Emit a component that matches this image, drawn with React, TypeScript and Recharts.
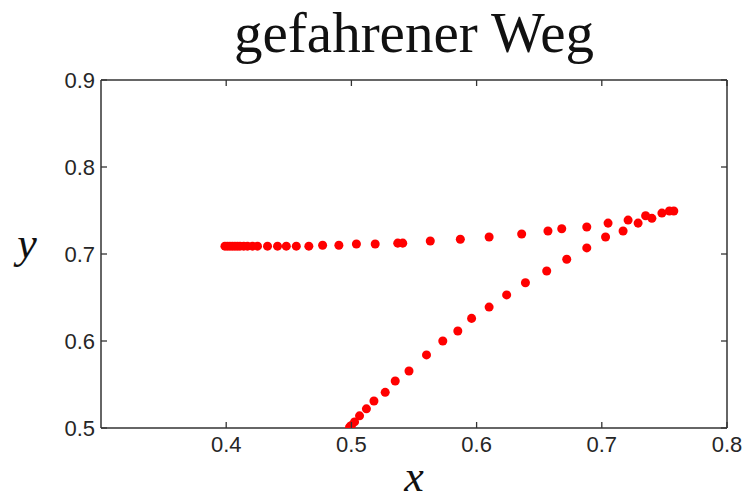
import { ScatterChart, Scatter, XAxis, YAxis, ZAxis } from 'recharts';

// outbound leg: horizontal run at y ~ 0.71, then bending up to the end point
const upperX = [
  0.399, 0.401, 0.403, 0.405, 0.407, 0.409, 0.411, 0.414, 0.417, 0.421,
  0.425, 0.433, 0.441, 0.448, 0.456, 0.466, 0.477, 0.490, 0.504, 0.519,
  0.537, 0.541, 0.563, 0.587, 0.610, 0.636, 0.657, 0.668, 0.688, 0.705,
  0.721, 0.735, 0.754,
];
const upperY = [
  0.709, 0.709, 0.709, 0.709, 0.709, 0.709, 0.709, 0.709, 0.709, 0.709,
  0.709, 0.709, 0.709, 0.709, 0.709, 0.709, 0.710, 0.710, 0.7115, 0.7115,
  0.7125, 0.7125, 0.715, 0.717, 0.7195, 0.723, 0.7265, 0.729, 0.731, 0.7355,
  0.739, 0.744, 0.7495,
];

// return leg: diagonal from (0.5, 0.5) up to the same end point
const lowerX = [
  0.4985, 0.500, 0.5025, 0.5065, 0.512, 0.518, 0.527, 0.535, 0.546, 0.560,
  0.573, 0.585, 0.596, 0.610, 0.624, 0.639, 0.656, 0.672, 0.688, 0.703,
  0.717, 0.729, 0.740, 0.748, 0.7575,
];
const lowerY = [
  0.501, 0.503, 0.507, 0.514, 0.522, 0.531, 0.541, 0.554, 0.5655, 0.584,
  0.600, 0.6115, 0.626, 0.639, 0.653, 0.667, 0.6805, 0.694, 0.707, 0.7195,
  0.7265, 0.7355, 0.741, 0.747, 0.7495,
];

const xTicks = [0.4, 0.5, 0.6, 0.7, 0.8];
const yTicks = [0.5, 0.6, 0.7, 0.8, 0.9];

const points = [
  ...upperX.map((x, i) => ({ x, y: upperY[i] })),
  ...lowerX.map((x, i) => ({ x, y: lowerY[i] })),
];

const frame = '#333333';
const font = 'Liberation Sans, Arial, sans-serif';
const TICK = 6;

// matlab style: tick marks point into the box
const BottomTick = ({ x, y, payload }: any) => (
  <g>
    <line x1={x} y1={y} x2={x} y2={y - TICK} stroke={frame} strokeWidth={1.3} />
    <text x={x} y={y + 8} dy="0.71em" textAnchor="middle" fontFamily={font} fontSize={22} fill="#262626">
      {Number(payload.value).toFixed(1)}
    </text>
  </g>
);
const LeftTick = ({ x, y, payload }: any) => (
  <g>
    <line x1={x} y1={y} x2={x + TICK} y2={y} stroke={frame} strokeWidth={1.3} />
    <text x={x - 6} y={y} dy="0.355em" textAnchor="end" fontFamily={font} fontSize={22} fill="#262626">
      {Number(payload.value).toFixed(1)}
    </text>
  </g>
);
const TopTick = ({ x, y }: any) => (
  <line x1={x} y1={y} x2={x} y2={y + TICK} stroke={frame} strokeWidth={1.3} />
);
const RightTick = ({ x, y }: any) => (
  <line x1={x} y1={y} x2={x - TICK} y2={y} stroke={frame} strokeWidth={1.3} />
);

export default function App() {
  return (
    <div style={{ position: 'absolute', left: 0, top: 0, width: 744, height: 502, background: '#fff' }}>
      <ScatterChart width={744} height={502} margin={{ top: 79, right: 16, bottom: 34, left: 56 }}>
        <XAxis
          type="number"
          dataKey="x"
          xAxisId="b"
          domain={[0.3, 0.8]}
          ticks={xTicks}
          allowDataOverflow
          height={40}
          tickLine={false}
          tickSize={0}
          tickMargin={0}
          tick={<BottomTick />}
          stroke={frame}
          strokeWidth={1.5}
        />
        <XAxis
          type="number"
          dataKey="x"
          xAxisId="t"
          orientation="top"
          domain={[0.3, 0.8]}
          ticks={xTicks}
          allowDataOverflow
          height={1}
          tickLine={false}
          tickSize={0}
          tickMargin={0}
          tick={<TopTick />}
          stroke={frame}
          strokeWidth={1.5}
        />
        <YAxis
          type="number"
          dataKey="y"
          yAxisId="l"
          domain={[0.5, 0.9]}
          ticks={yTicks}
          allowDataOverflow
          width={45}
          tickLine={false}
          tickSize={0}
          tickMargin={0}
          tick={<LeftTick />}
          stroke={frame}
          strokeWidth={1.5}
        />
        <YAxis
          type="number"
          dataKey="y"
          yAxisId="r"
          orientation="right"
          domain={[0.5, 0.9]}
          ticks={yTicks}
          allowDataOverflow
          width={1}
          tickLine={false}
          tickSize={0}
          tickMargin={0}
          tick={<RightTick />}
          stroke={frame}
          strokeWidth={1.5}
        />
        <ZAxis range={[48, 48]} />
        <Scatter
          data={points}
          xAxisId="b"
          yAxisId="l"
          fill="#ff0000"
          shape="circle"
          isAnimationActive={false}
        />
      </ScatterChart>
      <svg width={744} height={502} style={{ position: 'absolute', left: 0, top: 0, pointerEvents: 'none' }}>
        <text x={414} y={52} textAnchor="middle" fontFamily="Liberation Serif, serif" fontSize={57} fill="#111">
          gefahrener Weg
        </text>
        <text x={414} y={491} textAnchor="middle" fontFamily="Liberation Serif, serif" fontStyle="italic" fontSize={44} fill="#111">
          x
        </text>
        <text x={27} y={258} textAnchor="middle" fontFamily="Liberation Serif, serif" fontStyle="italic" fontSize={44} fill="#111">
          y
        </text>
      </svg>
    </div>
  );
}
